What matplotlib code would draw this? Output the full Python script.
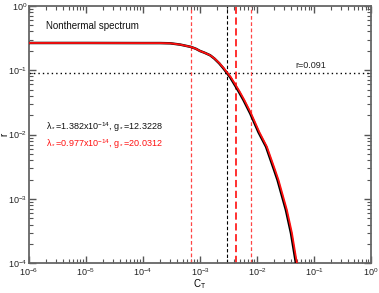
import matplotlib
matplotlib.use('Agg')
import matplotlib.pyplot as plt
from matplotlib.ticker import LogLocator, NullFormatter

plt.rcParams['font.family'] = ['Liberation Sans', 'DejaVu Sans']
plt.rcParams['mathtext.fontset'] = 'custom'
plt.rcParams['mathtext.rm'] = 'Liberation Sans'
plt.rcParams['mathtext.it'] = 'Liberation Sans:italic'
plt.rcParams['mathtext.default'] = 'regular'

# values (red = second fit, black = first fit)
ct_red = [1e-6, 1e-5, 1e-4, 2e-4, 3e-4, 4.5e-4, 6.95e-4, 8.5e-4, 1.0e-3,
          1.2e-3, 1.5e-3, 1.8e-3, 2.2e-3, 2.6e-3, 3.02e-3, 3.5e-3, 4.24e-3,
          5.0e-3, 6.0e-3, 7.87e-3, 0.011, 0.0149, 0.0208, 0.0238, 0.028,
          0.0334, 0.041, 0.0501]
r_red = [0.265, 0.265, 0.264, 0.264, 0.262, 0.250, 0.23, 0.215, 0.199,
         0.187, 0.171, 0.152, 0.128, 0.108, 0.091, 0.077, 0.0585,
         0.046, 0.0343, 0.0213, 0.0109, 6.47e-3, 2.8e-3, 1.97e-3, 1.18e-3,
         6.75e-4, 2.95e-4, 1e-4]
ct_black = [1e-6, 1e-5, 1e-4, 2e-4, 3e-4, 4.5e-4, 6.95e-4, 8.5e-4, 1.0e-3,
            1.2e-3, 1.5e-3, 1.78e-3, 2.17e-3, 2.55e-3, 2.95e-3, 3.4e-3, 4.10e-3,
            4.82e-3, 5.8e-3, 7.6e-3, 0.0106, 0.0144, 0.0200, 0.0229, 0.0269,
            0.0321, 0.0394, 0.0482]
r_black = r_red

r_level = 0.091
ct_black_mark = 3.02e-3
ct_red_mark = 4.24e-3
ct_red_bounds = [6.95e-4, 7.87e-3]

fig = plt.figure(figsize=(3.79, 2.93), dpi=100)
ax = fig.add_axes([0.0765, 0.1014, 0.9025, 0.8786])

ax.plot(ct_black, r_black, color='black', lw=1.8, zorder=3)
ax.plot(ct_red, r_red, color='#ff1010', lw=1.3, zorder=4)

ax.axhline(r_level, color='black', lw=1.0, ls=(0, (1, 2.2)), zorder=2)
ax.axvline(ct_black_mark, color='black', lw=0.8, ls=(0, (3, 2)), zorder=2)
ax.axvline(ct_red_mark, color='#ff2020', lw=1.3, ls=(0, (4, 2)), zorder=2)
for c in ct_red_bounds:
    ax.axvline(c, color='#ff4545', lw=0.9, ls=(0, (3, 2)), zorder=2)

ax.set_xscale('log')
ax.set_yscale('log')
ax.set_xlim(1e-6, 1)
ax.set_ylim(1e-4, 1)

ax.xaxis.set_major_locator(LogLocator(base=10, numticks=10))
ax.xaxis.set_minor_locator(LogLocator(base=10, subs=range(2, 10), numticks=20))
ax.xaxis.set_minor_formatter(NullFormatter())
ax.yaxis.set_minor_locator(LogLocator(base=10, subs=range(2, 10), numticks=20))
ax.yaxis.set_minor_formatter(NullFormatter())

ax.tick_params(which='both', direction='in', top=True, right=True,
               colors='#555555', labelcolor='#222222', labelsize=6.5)
ax.tick_params(which='major', length=5, width=1.0, pad=2)
ax.tick_params(which='minor', length=3, width=0.8)
ax.tick_params(axis='y', which='major', pad=1.2)
for s in ax.spines.values():
    s.set_color('#666666')
    s.set_linewidth(1.3)

ax.set_xlabel('C$_T$', fontsize=7)
ax.set_ylabel('r', fontsize=7, rotation=90)
ax.xaxis.set_label_coords(0.5, -0.08)
ax.yaxis.set_label_coords(-0.071, 0.5)
ax.xaxis.label.set_va('center')
ax.yaxis.label.set_va('center')

ax.text(0.05, 0.92, 'Nonthermal spectrum', transform=ax.transAxes,
        fontsize=7, va='center', ha='left', color='#111111')
ax.text(0.78, 0.769, 'r=0.091', transform=ax.transAxes,
        fontsize=6.5, va='center', ha='left', color='#222222')
ax.text(0.05, 0.529, 'λ$_*$=1.382x10$^{-14}$, g$_*$=12.3228',
        transform=ax.transAxes, fontsize=6.5, va='center', ha='left',
        color='#111111')
ax.text(0.05, 0.463, 'λ$_*$=0.977x10$^{-14}$, g$_*$=20.0312',
        transform=ax.transAxes, fontsize=6.5, va='center', ha='left',
        color='#ff1010')

fig.savefig('out.png', dpi=100)
